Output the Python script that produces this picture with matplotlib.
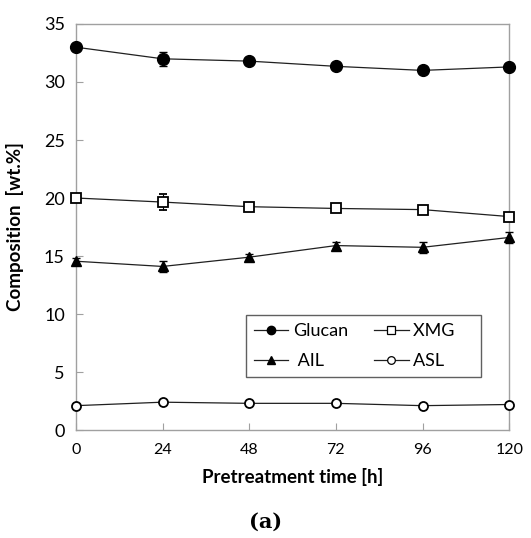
import matplotlib
matplotlib.use("Agg")
import matplotlib.pyplot as plt
from matplotlib.lines import Line2D

time = [0, 24, 48, 72, 96, 120]
glucan = [33.0, 32.0, 31.8, 31.35, 31.0, 31.3]
glucan_err = [0.15, 0.6, 0.2, 0.2, 0.2, 0.2]
xmg = [20.0, 19.65, 19.25, 19.1, 19.0, 18.4]
xmg_err = [0.15, 0.7, 0.2, 0.15, 0.2, 0.2]
ail = [14.55, 14.1, 14.9, 15.9, 15.75, 16.6]
ail_err = [0.3, 0.5, 0.25, 0.3, 0.45, 0.45]
asl = [2.1, 2.4, 2.3, 2.3, 2.1, 2.2]
asl_err = [0.1, 0.1, 0.1, 0.1, 0.1, 0.1]
labels = ['Glucan', 'XMG', ' AIL', 'ASL']

plt.rcParams['font.family'] = ['Lato', 'DejaVu Sans']

fig = plt.figure(figsize=(5.31, 5.38), dpi=100)
ax = fig.add_axes([0.143, 0.2007, 0.816, 0.7547])

lc = '#202020'
def draw(y, e, marker, mfc, ms, mew):
    ln, caps, bars = ax.errorbar(time, y, yerr=e, fmt='-' + marker, color=lc, lw=0.9,
                                 ecolor='black', elinewidth=0.8, capsize=3, capthick=0.8,
                                 markersize=ms, mfc=mfc, mec='black', mew=mew, zorder=3)
    ln.set_clip_on(False)
    for c in caps:
        c.set_clip_on(False)

draw(glucan, glucan_err, 'o', 'black', 8.5, 1.0)
draw(xmg, xmg_err, 's', 'white', 6.5, 1.3)
draw(ail, ail_err, '^', 'black', 7.5, 1.0)
draw(asl, asl_err, 'o', 'white', 6.5, 1.3)

ax.set_xlim(0, 120)
ax.set_ylim(0, 35)
ax.set_xticks(time)
ax.set_yticks(range(0, 36, 5))
for s in ax.spines.values():
    s.set_color('#a0a0a0')
    s.set_linewidth(1.0)
ax.tick_params(axis='y', direction='in', length=5, color='#a0a0a0', labelsize=13, pad=8)
ax.tick_params(axis='x', direction='in', length=5, color='#a0a0a0', labelsize=11.5, pad=9)

ax.set_xlabel('Pretreatment time [h]', fontsize=13.5, fontweight='bold', labelpad=8)
ax.set_ylabel('Composition  [wt.%]', fontsize=13.5, fontweight='bold', labelpad=14)

handles = [
    Line2D([], [], color=lc, lw=0.9, marker='o', mfc='black', mec='black', ms=6),
    Line2D([], [], color=lc, lw=0.9, marker='s', mfc='white', mec='black', ms=5.5, mew=0.9),
    Line2D([], [], color=lc, lw=0.9, marker='^', mfc='black', mec='black', ms=6),
    Line2D([], [], color=lc, lw=0.9, marker='o', mfc='white', mec='black', ms=5.5, mew=0.9),
]
order = [0, 2, 1, 3]
shown = [labels[0], labels[2], labels[1] + '    ', labels[3] + '    ']
leg = ax.legend([handles[i] for i in order], shown, ncol=2,
                loc='lower left', bbox_to_anchor=(0.392, 4.57 / 35, 0.543, (10.1 - 4.57) / 35),
                mode='expand', fancybox=False, edgecolor='#606060', fontsize=13, handlelength=1.9,
                handletextpad=0.25, columnspacing=1.0, borderpad=0.45, labelspacing=0.75,
                framealpha=1, borderaxespad=0)
leg.get_frame().set_linewidth(1.0)

fig.text(0.5, 0.03, '(a)', ha='center', va='center', fontsize=15, fontweight='bold', family='DejaVu Serif')

fig.savefig('out.png', dpi=100)
